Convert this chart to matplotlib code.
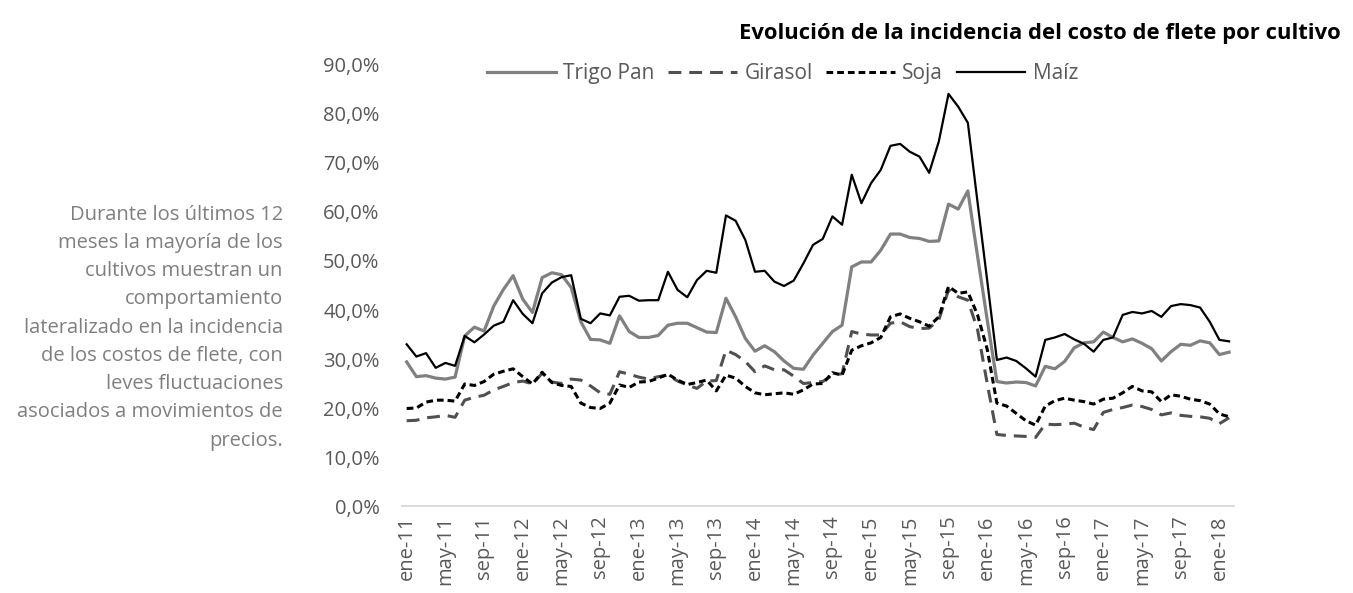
import matplotlib
matplotlib.use("Agg")
import matplotlib.pyplot as plt

plt.rcParams['font.family'] = ['Open Sans', 'DejaVu Sans']

# Monthly data: ene-11 .. feb-18 (86 months), values in %
trigo = [29.4, 26.4, 26.6, 26.1, 25.9, 26.3, 34.7, 36.5, 35.7, 40.8, 44.2, 47.0,
         42.2, 39.5, 46.6, 47.6, 47.2, 44.6, 37.6, 34.0, 33.9, 33.2, 38.8, 35.6,
         34.4, 34.4, 34.8, 36.9, 37.3, 37.3, 36.4, 35.5, 35.4, 42.4, 38.6, 34.2,
         31.6, 32.7, 31.5, 29.6, 28.1, 27.9, 30.8, 33.2, 35.6, 36.9, 48.8, 49.8,
         49.8, 52.2, 55.5, 55.5, 54.8, 54.6, 54.0, 54.1, 61.6, 60.6, 64.3, 51.0,
         38.0, 25.4, 25.1, 25.3, 25.2, 24.5, 28.5, 28.0, 29.5, 32.3, 33.3, 33.5,
         35.5, 34.4, 33.5, 34.1, 33.2, 32.1, 29.6, 31.5, 33.0, 32.8, 33.7, 33.3,
         30.9, 31.4]
girasol = [17.4, 17.5, 18.0, 18.2, 18.5, 18.1, 21.6, 22.2, 22.6, 23.7, 24.4, 25.2,
           25.5, 24.9, 27.1, 25.3, 25.0, 25.9, 25.7, 24.5, 23.1, 22.8, 27.4, 26.9,
           26.3, 25.9, 26.4, 26.7, 25.5, 24.7, 24.0, 25.5, 25.6, 31.8, 30.9, 29.5,
           27.4, 28.6, 27.8, 27.8, 26.5, 25.0, 25.2, 25.4, 26.7, 27.0, 35.6, 35.1,
           34.9, 34.9, 37.3, 37.6, 36.6, 36.2, 36.3, 38.0, 44.1, 42.7, 42.0, 36.0,
           25.0, 14.6, 14.4, 14.3, 14.2, 14.0, 16.7, 16.6, 16.7, 16.9, 16.1, 15.6,
           19.1, 19.7, 20.1, 20.6, 20.3, 19.7, 18.6, 19.0, 18.5, 18.3, 18.2, 17.9,
           16.8, 18.0]
soja = [19.9, 20.0, 21.2, 21.6, 21.6, 21.4, 24.9, 24.6, 25.4, 26.9, 27.5, 28.0,
        26.4, 24.9, 27.3, 25.2, 24.6, 24.4, 21.0, 20.1, 19.9, 21.0, 24.7, 24.2,
        25.3, 25.4, 26.1, 26.9, 25.7, 24.8, 25.2, 25.7, 23.5, 26.7, 26.1, 24.4,
        23.1, 22.7, 22.9, 23.1, 22.8, 23.7, 24.9, 25.0, 27.2, 26.7, 31.8, 32.7,
        33.3, 34.4, 38.6, 39.2, 38.3, 37.6, 36.7, 38.6, 44.8, 43.4, 43.7, 39.0,
        32.0, 21.0, 20.4, 18.9, 17.4, 16.5, 20.4, 21.5, 22.0, 21.6, 21.3, 20.8,
        21.8, 22.0, 23.1, 24.4, 23.5, 23.3, 21.3, 22.7, 22.4, 21.8, 21.5, 20.8,
        18.8, 18.2]
maiz = [33.0, 30.5, 31.2, 28.2, 29.2, 28.6, 34.7, 33.4, 35.0, 36.8, 37.6, 42.0,
        39.2, 37.3, 43.4, 45.6, 46.7, 47.1, 38.2, 37.3, 39.3, 38.9, 42.7, 42.9,
        41.9, 42.0, 42.0, 47.8, 44.1, 42.6, 46.1, 48.0, 47.6, 59.3, 58.2, 54.3,
        47.8, 48.0, 45.8, 44.9, 46.0, 49.5, 53.3, 54.5, 59.1, 57.4, 67.6, 61.8,
        65.9, 68.6, 73.5, 73.9, 72.3, 71.3, 68.0, 74.4, 84.1, 81.5, 78.2, 62.0,
        46.0, 29.8, 30.3, 29.6, 28.1, 26.4, 33.9, 34.4, 35.1, 34.0, 33.1, 31.5,
        33.9, 34.4, 39.0, 39.6, 39.3, 39.8, 38.6, 40.8, 41.2, 41.0, 40.5, 37.6,
        33.9, 33.6]

tick_labels = ['ene-11', 'may-11', 'sep-11', 'ene-12', 'may-12', 'sep-12',
               'ene-13', 'may-13', 'sep-13', 'ene-14', 'may-14', 'sep-14',
               'ene-15', 'may-15', 'sep-15', 'ene-16', 'may-16', 'sep-16',
               'ene-17', 'may-17', 'sep-17', 'ene-18']
tick_step = 4

title = 'Evolución de la incidencia del costo de flete por cultivo'
note = ('Durante los últimos 12\nmeses la mayoría de los\ncultivos muestran un\n'
        'comportamiento\nlateralizado en la incidencia\nde los costos de flete, con\n'
        'leves fluctuaciones\nasociados a movimientos de\nprecios.')

x = list(range(len(trigo)))

fig = plt.figure(figsize=(13.53, 5.93), dpi=100)
ax = fig.add_axes([0.297, 0.1467, 0.615, 0.7437])

ax.plot(x, trigo, color='#808080', lw=2.3, label='Trigo Pan')
ax.plot(x, girasol, color='#505050', lw=2.2, dashes=(4.2, 2.6), label='Girasol')
ax.plot(x, soja, color='#000000', lw=2.2, dashes=(2.2, 1.3), label='Soja')
ax.plot(x, maiz, color='#000000', lw=1.6, label='Maíz')

ax.set_xlim(-0.5, len(trigo) - 0.5)
ax.set_ylim(0, 90)
ax.set_yticks(range(0, 91, 10))
ax.set_yticklabels([f'{v},0%' for v in range(0, 91, 10)])
ax.set_xticks(list(range(0, len(trigo), tick_step))[:len(tick_labels)])
ax.set_xticklabels(tick_labels, rotation=90)
ax.tick_params(axis='both', length=0, colors='#595959', labelsize=14.5)
ax.tick_params(axis='y', pad=16)
ax.tick_params(axis='x', pad=7)
for s in ['top', 'right', 'left']:
    ax.spines[s].set_visible(False)
ax.spines['bottom'].set_color('#d9d9d9')
ax.spines['bottom'].set_linewidth(1.3)

leg = fig.legend(loc='center', bbox_to_anchor=(0.5785, 0.876), ncol=4, frameon=False,
                 fontsize=15, handlelength=3.3, handletextpad=0.35, columnspacing=0.65)
for t in leg.get_texts():
    t.set_color('#595959')

fig.text(0.991, 0.944, title, ha='right', va='center', fontsize=15.8,
         fontweight='bold', color='#000000')
fig.text(0.209, 0.655, note, ha='right', va='top', fontsize=14.5, color='#7f7f7f',
         linespacing=1.55)

fig.savefig('out.png', dpi=100)
